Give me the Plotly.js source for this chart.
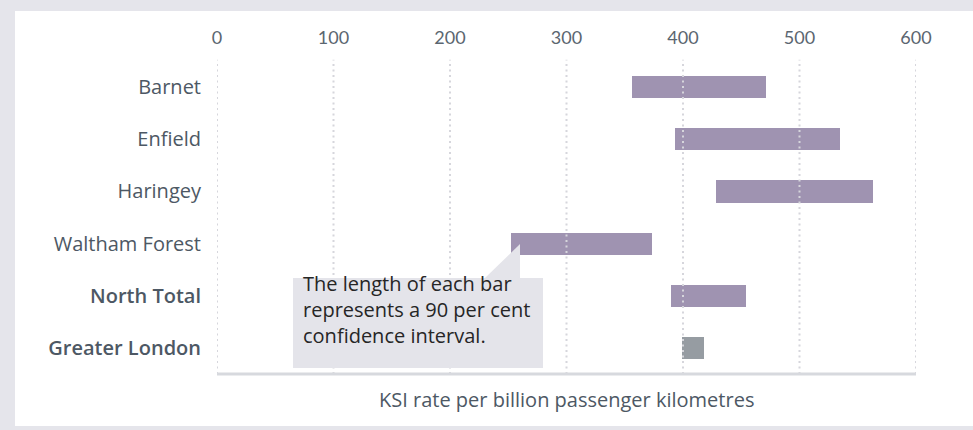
<!DOCTYPE html>
<html>
<head>
<meta charset="utf-8">
<script src="https://cdn.plot.ly/plotly-3.0.1.min.js"></script>
<style>
  html, body { margin: 0; padding: 0; background: #e5e5eb; width: 973px; height: 430px; overflow: hidden; }
  #chart { position: absolute; left: 15px; top: 11px; width: 958px; height: 415px; background: #ffffff; }
</style>
</head>
<body>
<div id="chart"></div>
<script>
// ---- data ----
const categories = ['Barnet', 'Enfield', 'Haringey', 'Waltham Forest', 'North Total', 'Greater London'];
const lowValues  = [356, 393, 428, 252, 390, 399];
const highValues = [471, 535, 563, 373, 454, 418];
const summaryRows = ['North Total', 'Greater London'];
const tickValues = [0, 100, 200, 300, 400, 500, 600];
const xTitle = 'KSI rate per billion passenger kilometres';
const noteLines = ['The length of each bar', 'represents a 90 per cent', 'confidence interval.'];

// ---- styles ----
const FONT = '"Open Sans", Lato, sans-serif';
const TICKFONT = 'Lato, "Open Sans", sans-serif';
const PURPLE = '#9f93b1';
const GREY = '#969ca2';
const GRID = '#d6d6dc';

const widths = highValues.map((h, i) => h - lowValues[i]);
const colors = categories.map(c => c === 'Greater London' ? GREY : PURPLE);
const tickText = categories.map(c => summaryRows.includes(c)
  ? '<span style="font-weight:600">' + c + '</span>' : c);

const trace = {
  type: 'bar',
  orientation: 'h',
  y: categories,
  x: widths,
  base: lowValues,
  width: 0.425,
  marker: { color: colors, line: { width: 0 } },
  hoverinfo: 'skip'
};

const shapes = [];
// dotted gridlines drawn above the bars
tickValues.forEach(v => {
  shapes.push({
    type: 'line', layer: 'above', xref: 'x', yref: 'paper',
    x0: v, x1: v, y0: 0, y1: 1.004,
    line: { color: GRID, width: 2, dash: '2px,3.5px' }
  });
});
// bottom axis line
shapes.push({
  type: 'line', layer: 'above', xref: 'paper', yref: 'paper',
  x0: 0, x1: 1, y0: 0, y1: 0,
  line: { color: '#d7d9de', width: 3 }
});
// callout box + pointer
shapes.push({
  type: 'rect', layer: 'above', xref: 'paper', yref: 'paper',
  x0: 0.1087, x1: 0.4664, y0: 0.0192, y1: 0.3067,
  fillcolor: '#e4e4ea', line: { width: 0 }
});
shapes.push({
  type: 'path', layer: 'above', xref: 'paper', yref: 'paper',
  path: 'M 0.3834 0.3067 L 0.4335 0.4153 L 0.4335 0.3067 Z',
  fillcolor: '#e4e4ea', line: { width: 0 }
});

const annotations = [
  {
    xref: 'paper', yref: 'paper', x: 0.5, y: 0, xanchor: 'center', yanchor: 'middle',
    yshift: -25, showarrow: false, text: xTitle,
    font: { family: FONT, size: 20, color: '#4d5864' }
  },
  {
    xref: 'paper', yref: 'paper', x: 0.1202, y: 0.206, xanchor: 'left', yanchor: 'middle',
    align: 'left', showarrow: false, text: noteLines.join('<br>'),
    font: { family: FONT, size: 20, color: '#262626' }
  }
];

const layout = {
  width: 958,
  height: 415,
  margin: { l: 202, r: 57, t: 50, b: 52, pad: 0 },
  paper_bgcolor: '#ffffff',
  plot_bgcolor: '#ffffff',
  showlegend: false,
  bargap: 0,
  font: { family: FONT, color: '#4d5864' },
  xaxis: {
    side: 'top',
    range: [0, 600],
    tickvals: tickValues,
    ticktext: tickValues.map(String),
    showgrid: false,
    zeroline: false,
    showline: false,
    ticks: '',
    ticklabelstandoff: 12,
    tickfont: { family: TICKFONT, size: 18, color: '#5b6670' },
    fixedrange: true
  },
  yaxis: {
    type: 'category',
    range: [5.5, -0.5],
    tickvals: categories,
    ticktext: tickText,
    showgrid: false,
    zeroline: false,
    showline: false,
    ticks: '',
    ticklabelstandoff: 15,
    tickfont: { family: FONT, size: 20, color: '#4d5864' },
    fixedrange: true
  },
  shapes: shapes,
  annotations: annotations
};

Plotly.newPlot('chart', [trace], layout, { staticPlot: true, displayModeBar: false });
</script>
</body>
</html>
